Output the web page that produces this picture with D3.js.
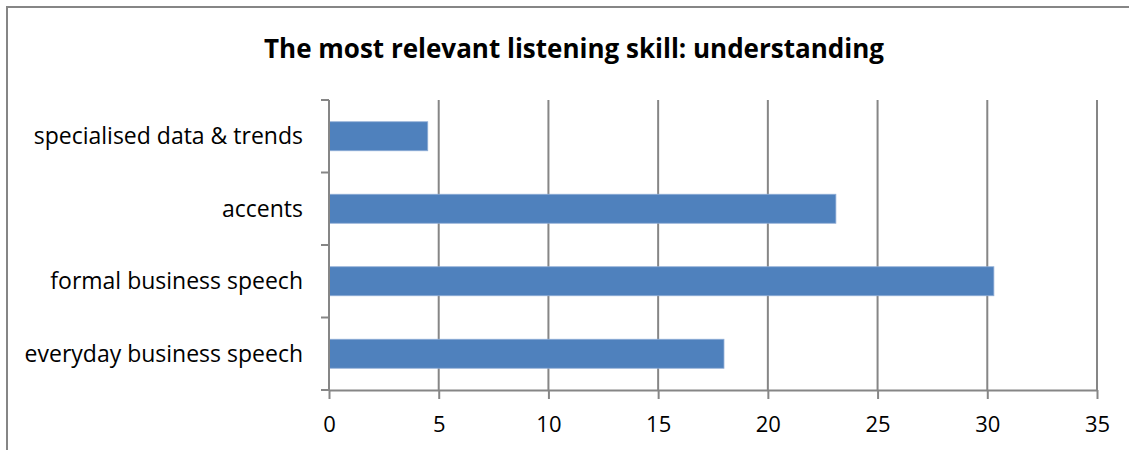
<!DOCTYPE html>
<html>
<head>
<meta charset="utf-8">
<script src="https://cdn.jsdelivr.net/npm/d3@7"></script>
<style>
  html, body { margin: 0; padding: 0; background: #fff; }
  svg { display: block; font-family: "Open Sans", Lato, sans-serif; }
</style>
</head>
<body>
<svg id="chart" width="1129" height="450"></svg>
<script>
// chart data
const categories = ['everyday business speech', 'formal business speech', 'accents', 'specialised data & trends'];
const values = [18, 30.3, 23.1, 4.5];
const xTicks = [0, 5, 10, 15, 20, 25, 30, 35];
const title = 'The most relevant listening skill: understanding';

const svg = d3.select('#chart');
const margin = { left: 329, top: 100, right: 32, bottom: 60 };
const width = 1129 - margin.left - margin.right;
const height = 450 - margin.top - margin.bottom;
const gridColor = '#868686';

// outer frame
svg.append('rect')
    .attr('x', 7).attr('y', 7)
    .attr('width', 1140).attr('height', 460)
    .attr('fill', 'none')
    .attr('stroke', gridColor)
    .attr('stroke-width', 2);

svg.append('text')
    .attr('x', 574).attr('y', 58)
    .attr('text-anchor', 'middle')
    .attr('font-size', '26px')
    .attr('font-weight', 'bold')
    .attr('fill', '#000')
    .text(title);

const g = svg.append('g').attr('transform', `translate(${margin.left},${margin.top})`);

const x = d3.scaleLinear().domain([0, 35]).range([0, width]);
// reversed so the first category sits at the bottom
const y = d3.scaleBand().domain(categories.slice().reverse()).range([0, height]).paddingInner(0.6).paddingOuter(0.3);
const yEdge = d3.scaleLinear().domain([0, categories.length]).range([height, 0]);

// vertical gridlines
g.append('g').selectAll('line')
    .data(xTicks.slice(1))
    .join('line')
    .attr('x1', d => x(d)).attr('x2', d => x(d))
    .attr('y1', 0).attr('y2', height)
    .attr('stroke', gridColor).attr('stroke-width', 2);

// bars
g.append('g').selectAll('rect')
    .data(values)
    .join('rect')
    .attr('x', x(0))
    .attr('y', (d, i) => y(categories[i]))
    .attr('width', d => x(d) - x(0))
    .attr('height', y.bandwidth())
    .attr('fill', '#4F81BD')
    .attr('stroke', '#8FADD6')
    .attr('stroke-width', 0.8);

// x axis
const xAxis = g.append('g')
    .attr('transform', `translate(0,${height})`)
    .call(d3.axisBottom(x).tickValues(xTicks).tickSize(9).tickSizeOuter(0).tickPadding(17));
xAxis.select('.domain').attr('stroke', gridColor).attr('stroke-width', 2);
xAxis.selectAll('.tick line').attr('stroke', gridColor).attr('stroke-width', 2);
xAxis.selectAll('text')
    .attr('font-size', '22px')
    .attr('font-family', '"Open Sans", Lato, sans-serif')
    .attr('fill', '#000');

// y axis: ticks on category boundaries, labels at band centres
const yAxis = g.append('g');
yAxis.append('line')
    .attr('x1', 0).attr('x2', 0)
    .attr('y1', 0).attr('y2', height)
    .attr('stroke', gridColor).attr('stroke-width', 2);
yAxis.selectAll('line.tick')
    .data(d3.range(categories.length + 1))
    .join('line')
    .attr('class', 'tick')
    .attr('x1', -8).attr('x2', 0)
    .attr('y1', d => yEdge(d)).attr('y2', d => yEdge(d))
    .attr('stroke', gridColor).attr('stroke-width', 2);
yAxis.selectAll('text')
    .data(categories)
    .join('text')
    .attr('x', -26)
    .attr('y', d => y(d) + y.bandwidth() / 2)
    .attr('dy', '0.35em')
    .attr('text-anchor', 'end')
    .attr('font-size', '23px')
    .attr('fill', '#000')
    .text(d => d);
</script>
</body>
</html>
